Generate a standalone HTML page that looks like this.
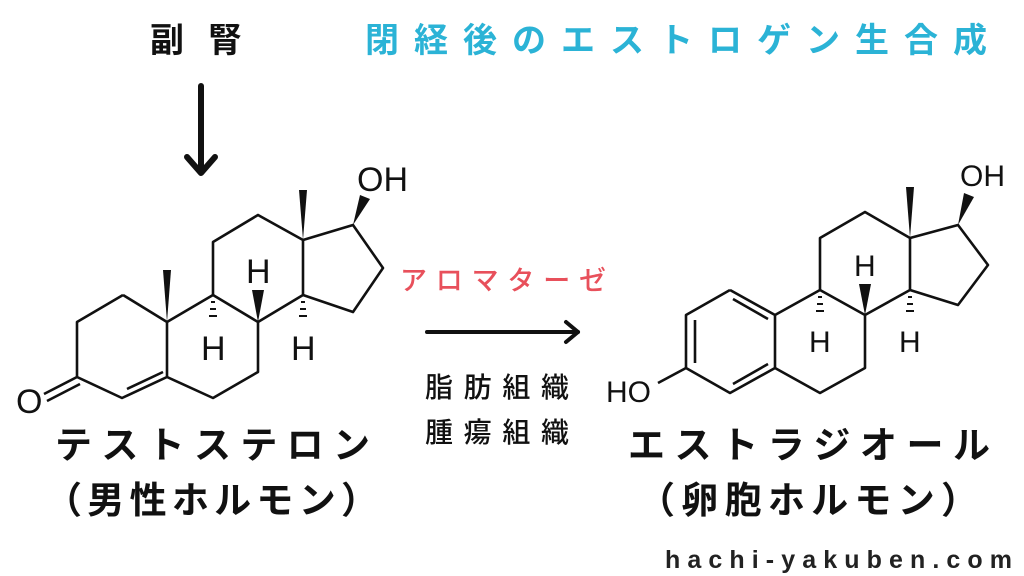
<!DOCTYPE html>
<html><head><meta charset="utf-8"><style>
html,body{margin:0;padding:0;background:#fff}
svg{display:block}
.j{font-family:"Liberation Sans","Noto Sans CJK JP",sans-serif}
.a{font-family:"Liberation Sans",sans-serif;font-size:34px;fill:#111}
.b{font-family:"Liberation Sans",sans-serif;font-size:30px;fill:#111}
</style></head><body>
<svg width="1024" height="576" viewBox="0 0 1024 576" xmlns="http://www.w3.org/2000/svg">
<g class="j" font-weight="bold">
<text x="150" y="52" font-size="34" fill="#111" textLength="92" lengthAdjust="spacing">副腎</text>
<text x="365" y="52" font-size="34" fill="#2bb3d6" textLength="622" lengthAdjust="spacing">閉経後のエストロゲン生合成</text>
<text x="55" y="458" font-size="37" fill="#111" textLength="315" lengthAdjust="spacing">テストステロン</text>
<text x="45" y="513" font-size="37" fill="#111" textLength="333" lengthAdjust="spacing">（男性ホルモン）</text>
<text x="628" y="458" font-size="37" fill="#111" textLength="362" lengthAdjust="spacing">エストラジオール</text>
<text x="638" y="513" font-size="37" fill="#111" textLength="340" lengthAdjust="spacing">（卵胞ホルモン）</text>
</g>
<g class="j" font-weight="500">
<text x="400" y="290" font-size="27" fill="#e8505b" textLength="206" lengthAdjust="spacing">アロマターゼ</text>
<text x="425" y="397" font-size="28" fill="#111" textLength="144" lengthAdjust="spacing">脂肪組織</text>
<text x="425" y="442" font-size="28" fill="#111" textLength="144" lengthAdjust="spacing">腫瘍組織</text>
</g>
<text x="665" y="568" font-family="Liberation Sans,sans-serif" font-weight="bold" font-size="25" fill="#222" textLength="347" lengthAdjust="spacing">hachi-yakuben.com</text>

<g stroke="#111" stroke-width="6" fill="none" stroke-linecap="round" stroke-linejoin="round">
<line x1="201" y1="86" x2="201" y2="172"/>
<polyline points="187,157 201,173 215,157"/>
<line x1="427" y1="332" x2="578" y2="332" stroke-width="4"/>
<polyline points="566,322 578,332 566,342" stroke-width="4"/>
</g>

<!-- testosterone -->
<g stroke="#111" stroke-width="2.6" fill="none" stroke-linejoin="round">
<polyline points="123,295 77,322 77,377 122,398 167,377 167,322 123,295"/>
<line x1="127" y1="389" x2="163" y2="372"/>
<line x1="77" y1="377" x2="44" y2="394"/>
<line x1="80" y1="384" x2="47" y2="401"/>
<polyline points="167,322 213,295 258,322 258,372 213,398 167,377"/>
<polyline points="213,295 213,242 258,215 303,240 303,295 258,322"/>
<polyline points="303,240 353,225 383,268 353,312 303,295"/>
</g>
<g fill="#111">
<polygon points="167,322 163,270 171,270"/>
<polygon points="303,240 299,190 307,190"/>
<polygon points="353,225 360,195 370,199"/>
<polygon points="258,322 252,290 264,290"/>
</g>
<g stroke="#111" stroke-width="2">
<line x1="211" y1="302" x2="215" y2="302"/><line x1="210" y1="309" x2="216" y2="309"/><line x1="209" y1="316" x2="217" y2="316"/>
<line x1="301" y1="302" x2="305" y2="302"/><line x1="300" y1="309" x2="306" y2="309"/><line x1="299" y1="316" x2="307" y2="316"/>
</g>
<text class="a" x="357" y="191">OH</text>
<text class="a" x="16" y="413">O</text>
<text class="a" x="246" y="283">H</text>
<text class="a" x="201" y="360">H</text>
<text class="a" x="291" y="360">H</text>

<!-- estradiol -->
<g stroke="#111" stroke-width="2.6" fill="none" stroke-linejoin="round">
<polyline points="730,290 686,315 686,368 730,393 775,368 775,315 730,290"/>
<line x1="733" y1="299" x2="768" y2="319"/>
<line x1="695" y1="320" x2="695" y2="363"/>
<line x1="733" y1="384" x2="768" y2="364"/>
<line x1="686" y1="368" x2="658" y2="383"/>
<polyline points="775,315 820,290 865,315 865,368 820,393 775,368"/>
<polyline points="820,290 820,238 865,212 910,238 910,290 865,315"/>
<polyline points="910,238 958,225 988,265 958,305 910,290"/>
</g>
<g fill="#111">
<polygon points="910,238 906,187 914,187"/>
<polygon points="958,225 964,193 974,197"/>
<polygon points="865,315 859,284 871,284"/>
</g>
<g stroke="#111" stroke-width="2">
<line x1="818" y1="297" x2="822" y2="297"/><line x1="817" y1="304" x2="823" y2="304"/><line x1="816" y1="311" x2="824" y2="311"/>
<line x1="908" y1="297" x2="912" y2="297"/><line x1="907" y1="304" x2="913" y2="304"/><line x1="906" y1="311" x2="914" y2="311"/>
</g>
<text class="b" x="960" y="186">OH</text>
<text class="b" x="606" y="402">HO</text>
<text class="b" x="854" y="276">H</text>
<text class="b" x="809" y="352">H</text>
<text class="b" x="899" y="352">H</text>
</svg>
</body></html>
